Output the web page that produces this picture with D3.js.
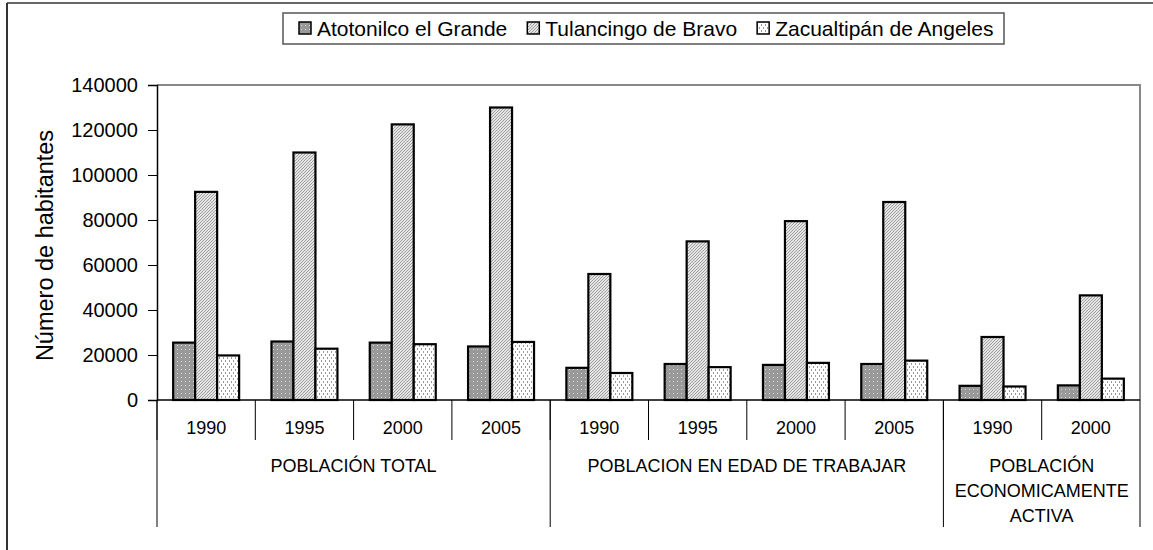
<!DOCTYPE html>
<html>
<head>
<meta charset="utf-8">
<script src="https://cdn.jsdelivr.net/npm/d3@7"></script>
<style>
  html, body { margin: 0; padding: 0; background: #fff; }
  svg { display: block; font-family: "Liberation Sans", Arial, sans-serif; }
</style>
</head>
<body>
<svg id="chart" width="1153" height="550"></svg>
<script>
// ---- data ----
const years = ["1990", "1995", "2000", "2005", "1990", "1995", "2000", "2005", "1990", "2000"];
const groupNames = [["POBLACIÓN TOTAL"], ["POBLACION EN EDAD DE TRABAJAR"], ["POBLACIÓN", "ECONOMICAMENTE", "ACTIVA"]];
const groupSizes = [4, 4, 2];
const seriesNames = ["Atotonilco el Grande", "Tulancingo de Bravo", "Zacualtipán de Angeles"];
const atotonilco = [25500, 26000, 25500, 23800, 14300, 16000, 15600, 16000, 6300, 6500];
const tulancingo = [92500, 110000, 122500, 130000, 56000, 70500, 79500, 88000, 28000, 46500];
const zacualtipan = [19800, 22800, 24800, 25800, 12000, 14600, 16500, 17500, 6000, 9500];
const yTicks = [0, 20000, 40000, 60000, 80000, 100000, 120000, 140000];
const yTitle = "Número de habitantes";

const seriesValues = [atotonilco, tulancingo, zacualtipan];
const svg = d3.select("#chart");

// ---- patterns ----
const defs = svg.append("defs");
const p0 = defs.append("pattern").attr("id", "pat0").attr("patternUnits", "userSpaceOnUse").attr("width", 4).attr("height", 4);
p0.append("rect").attr("width", 4).attr("height", 4).attr("fill", "#999999");
p0.append("rect").attr("x", 1).attr("y", 1).attr("width", 1).attr("height", 1).attr("fill", "#d8d8d8");
const p1 = defs.append("pattern").attr("id", "pat1").attr("patternUnits", "userSpaceOnUse").attr("width", 3).attr("height", 3);
p1.append("rect").attr("width", 3).attr("height", 3).attr("fill", "#e4e4e4");
p1.append("path").attr("d", "M0,3 L3,0 M-1,1 L1,-1 M2,4 L4,2").attr("stroke", "#a0a0a0").attr("stroke-width", 1);
const p2 = defs.append("pattern").attr("id", "pat2").attr("patternUnits", "userSpaceOnUse").attr("width", 4).attr("height", 6);
p2.append("rect").attr("width", 4).attr("height", 6).attr("fill", "#ffffff");
p2.append("rect").attr("x", 1).attr("y", 0).attr("width", 1).attr("height", 2).attr("fill", "#9a9a9a");
p2.append("rect").attr("x", 3).attr("y", 3).attr("width", 1).attr("height", 2).attr("fill", "#9a9a9a");
const fills = ["url(#pat0)", "url(#pat1)", "url(#pat2)"];

// ---- outer frame ----
svg.append("line").attr("x1", 7).attr("y1", 3).attr("x2", 1153).attr("y2", 3).attr("stroke", "#666").attr("stroke-width", 2);
svg.append("line").attr("x1", 7).attr("y1", 3).attr("x2", 7).attr("y2", 550).attr("stroke", "#333").attr("stroke-width", 2);

// ---- scales ----
const plotL = 157, plotR = 1140, plotT = 85, plotB = 400;
const idx = d3.range(years.length);
const x0 = d3.scaleBand().domain(idx).range([plotL, plotR]).padding(0);
const x1 = d3.scaleBand().domain([0, 1, 2]).range([0, x0.bandwidth()]).paddingInner(0).paddingOuter(0.735);
const y = d3.scaleLinear().domain([0, 140000]).range([plotB, plotT]);

svg.append("path").attr("d", `M${plotL},${plotT} H${plotR} V${plotB}`).attr("fill", "none").attr("stroke", "#888").attr("stroke-width", 2);

// ---- bars ----
const g = svg.append("g");
seriesValues.forEach((vals, s) => {
  g.selectAll(null).data(vals).enter().append("rect")
    .attr("x", (d, i) => x0(i) + x1(s))
    .attr("y", d => y(d))
    .attr("width", x1.bandwidth())
    .attr("height", d => plotB - y(d))
    .attr("fill", fills[s])
    .attr("stroke", "#000")
    .attr("stroke-width", 2.2);
});

// ---- y axis ----
const yAxis = d3.axisLeft(y).tickValues(yTicks).tickSize(9).tickPadding(10).tickFormat(d3.format("d"));
const ya = svg.append("g").attr("transform", `translate(${plotL},0)`).call(yAxis);
ya.select(".domain").attr("stroke", "#000").attr("stroke-width", 1.5);
ya.selectAll(".tick line").attr("stroke", "#000").attr("stroke-width", 1);
ya.selectAll("text").attr("font-size", 20).attr("fill", "#000").attr("font-family", "Liberation Sans, Arial, sans-serif");

svg.append("text").attr("transform", `translate(53,${(plotT + plotB) / 2 + 3}) rotate(-90)`)
  .attr("text-anchor", "middle").attr("font-size", 23.5).attr("fill", "#000").text(yTitle);

// ---- x axis (multi-level) ----
svg.append("line").attr("x1", plotL).attr("x2", plotR).attr("y1", plotB).attr("y2", plotB).attr("stroke", "#000").attr("stroke-width", 1.5);
const xa = svg.append("g");
idx.forEach(i => {
  xa.append("line").attr("x1", x0(i)).attr("x2", x0(i)).attr("y1", plotB).attr("y2", 440).attr("stroke", "#000").attr("stroke-width", 1);
});
let acc = 0;
const bounds = [0];
groupSizes.forEach(n => { acc += n; bounds.push(acc); });
bounds.forEach(b => {
  const xx = b < years.length ? x0(b) : plotR;
  xa.append("line").attr("x1", xx).attr("x2", xx).attr("y1", plotB).attr("y2", 527).attr("stroke", "#000").attr("stroke-width", 1);
});
xa.selectAll(null).data(years).enter().append("text")
  .attr("x", (d, i) => x0(i) + x0.bandwidth() / 2)
  .attr("y", 434)
  .attr("text-anchor", "middle").attr("font-size", 18).attr("fill", "#000")
  .text(d => d);
groupNames.forEach((lines, gi) => {
  const start = x0(bounds[gi]);
  const end = bounds[gi + 1] < years.length ? x0(bounds[gi + 1]) : plotR;
  const t = xa.append("text").attr("text-anchor", "middle").attr("font-size", 18).attr("fill", "#000");
  lines.forEach((ln, li) => {
    t.append("tspan").attr("x", (start + end) / 2).attr("y", 472 + li * 25).text(ln);
  });
});

// ---- legend ----
const leg = svg.append("g");
leg.append("rect").attr("x", 283).attr("y", 13).attr("width", 721).attr("height", 31)
  .attr("fill", "#fff").attr("stroke", "#555").attr("stroke-width", 1.5);
let lx = 299;
seriesNames.forEach((name, s) => {
  leg.append("rect").attr("x", lx).attr("y", 22).attr("width", 12).attr("height", 12)
    .attr("fill", fills[s]).attr("stroke", "#000").attr("stroke-width", 1.5);
  const t = leg.append("text").attr("x", lx + 18).attr("y", 36).attr("font-size", 21).attr("fill", "#000").text(name);
  lx += 18 + t.node().getComputedTextLength() + 20;
});
</script>
</body>
</html>
